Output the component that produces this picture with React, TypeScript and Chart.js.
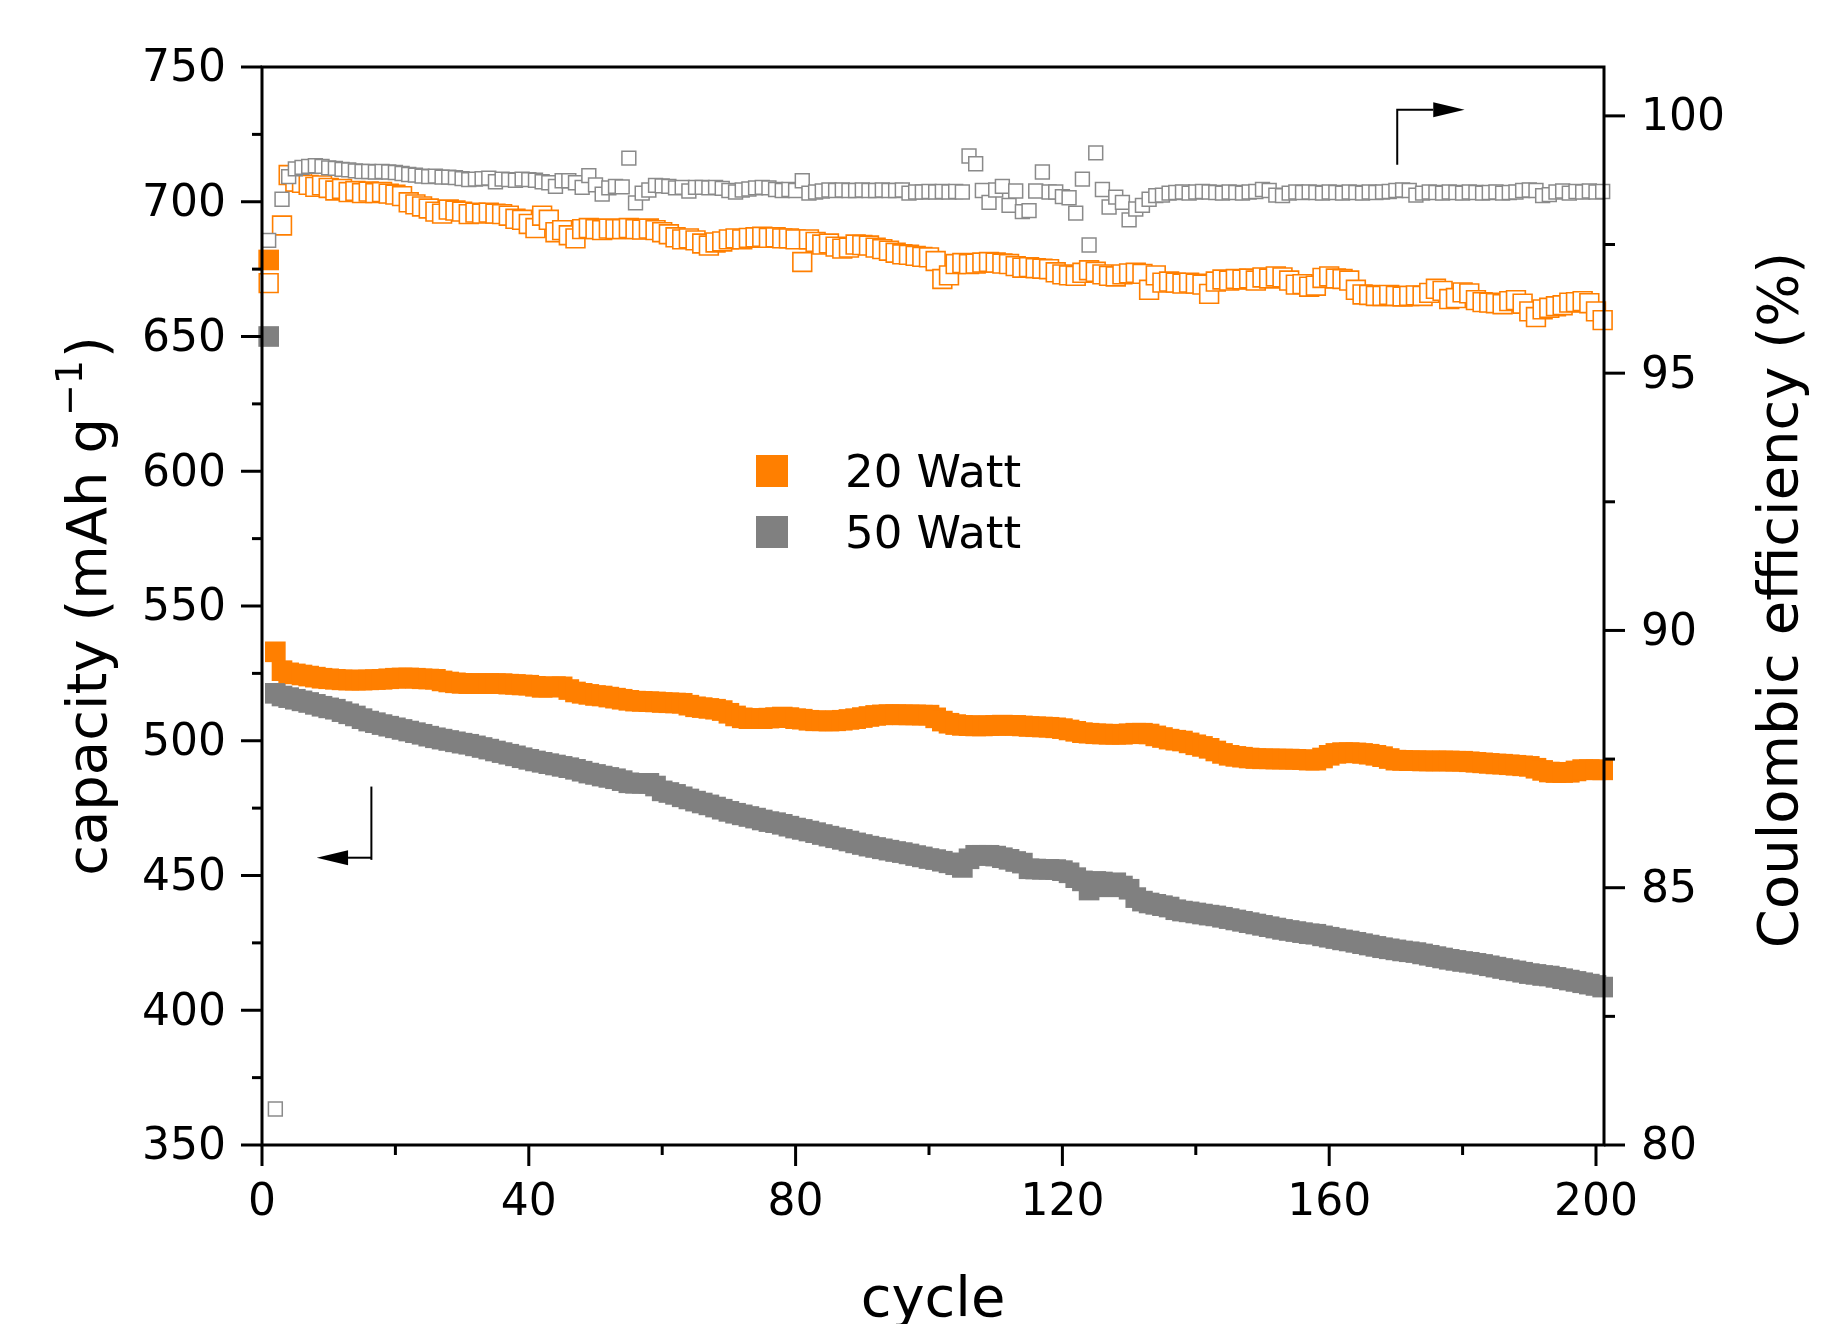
import React, { useEffect, useRef } from 'react';
import { Chart, registerables } from 'chart.js';

Chart.register(...registerables);

const FONT = "'DejaVu Sans', Verdana, sans-serif";

// capacity (mAh g-1), cycles 1..201
const cap20 = [
  678.4, 533, 526, 525.2, 524.8, 524.4, 524, 523.6, 523.2, 523,
  522.8, 522.6, 522.5, 522.5, 522.5, 522.6, 522.7, 522.8, 523, 523.2,
  523.3, 523.3, 523.2, 523, 522.9, 522.8, 522.2, 521.8, 521.5, 521.3,
  521.2, 521.2, 521.2, 521.2, 521.2, 521.2, 521, 520.9, 520.7, 520.6,
  520.2, 519.8, 519.9, 520.1, 520, 519, 518.1, 517.6, 517.2, 516.8,
  516.6, 516.2, 515.8, 515.4, 515, 514.7, 514.6, 514.5, 514.4, 514.2,
  514.1, 514, 513.9, 513.2, 512.6, 512.3, 512, 511.7, 511.2, 510.2,
  509.2, 508.5, 508.2, 508.2, 508.2, 508.4, 508.6, 508.8, 508.6, 508.2,
  508, 507.6, 507.4, 507.4, 507.3, 507.4, 507.6, 507.9, 508.2, 508.6,
  509, 509.4, 509.6, 509.7, 509.7, 509.6, 509.6, 509.6, 509.5, 509.5,
  508.5, 507.3, 506.5, 506, 505.7, 505.6, 505.5, 505.5, 505.6, 505.7,
  505.8, 505.7, 505.7, 505.5, 505.3, 505.2, 505.1, 505, 504.8, 504.5,
  504, 503.5, 503, 502.8, 502.6, 502.5, 502.4, 502.4, 502.4, 502.6,
  502.8, 502.8, 502.5, 501.8, 501.2, 500.6, 500.2, 499.9, 499.2, 498.5,
  497.9, 497.2, 496.2, 495.3, 494.6, 494.2, 493.9, 493.6, 493.4, 493.3,
  493.3, 493.2, 493.2, 493.2, 493.1, 493, 492.8, 492.8, 493.6, 494.6,
  495.3, 495.6, 495.6, 495.5, 495.3, 495, 494.6, 494.1, 493.4, 492.8,
  492.7, 492.6, 492.6, 492.5, 492.5, 492.5, 492.5, 492.5, 492.4, 492.4,
  492.2, 492, 491.8, 491.6, 491.4, 491.3, 491.1, 490.9, 490.7, 490.5,
  489.8, 489, 488.4, 488.2, 488.2, 488.3, 488.8, 489.3, 489.3, 489.2, 489.2,
];

const cap50 = [
  650, 517.6, 516.6, 516, 515.4, 514.8, 514.2, 513.5, 512.8, 512.2,
  511.7, 510.8, 510, 509.2, 508.2, 507.3, 506.7, 506, 505.4, 504.8,
  504.2, 503.6, 503, 502.4, 501.7, 501.1, 500.6, 500.1, 499.6, 499.1,
  498.7, 498.1, 497.5, 496.9, 496.2, 495.6, 495, 494.4, 493.7, 493.1,
  492.5, 492, 491.5, 491, 490.5, 490, 489.4, 488.7, 488, 487.5,
  486.9, 486.4, 485.9, 485.2, 484.4, 484.2, 484.2, 484.2, 483.2, 481.4,
  480.8, 480.1, 479.2, 478.4, 477.6, 476.9, 476.2, 475.4, 474.6, 473.8,
  473.1, 472.5, 471.9, 471.3, 470.6, 470, 469.6, 469, 468.3, 467.6,
  467.1, 466.5, 465.9, 465.2, 464.6, 464, 463.4, 462.8, 462.1, 461.5,
  460.9, 460.4, 459.9, 459.4, 458.9, 458.5, 458, 457.4, 456.9, 456.3,
  455.9, 455.3, 454.7, 454, 453, 456.2, 457.5, 457.5, 457.5, 457.2,
  456.6, 456, 455.2, 454.6, 452.5, 452.4, 452.3, 452.3, 452.2, 451.8,
  451, 449.2, 448, 444.6, 447.8, 447.6, 445.8, 447.3, 446.1, 444.9,
  441.8, 440.5, 439.8, 439.3, 438.8, 438.3, 437.3, 436.8, 436.5, 436.1,
  435.7, 435.3, 435, 434.5, 434, 433.5, 433, 432.5, 432, 431.5,
  431, 430.5, 430, 429.6, 429.2, 428.8, 428.4, 428.2, 427.6, 427.1,
  426.6, 426.1, 425.7, 425.2, 424.7, 424.2, 423.7, 423.2, 422.8, 422.4,
  422, 421.7, 421.4, 420.9, 420.4, 419.9, 419.4, 418.9, 418.5, 418.1,
  417.8, 417.4, 417, 416.5, 416, 415.5, 415, 414.6, 414.1, 413.6,
  413.3, 412.9, 412.7, 412.2, 411.7, 411.2, 410.7, 410.2, 409.7, 409.2, 408.6,
];

// Coulombic efficiency (%), cycles 1..201
const ce20 = [
  96.75, null, 97.87, 98.85, 98.72, 98.7, 98.66, 98.62, 98.65, 98.6,
  98.55, 98.58, 98.52, 98.54, 98.5, 98.53, 98.5, 98.52, 98.49, 98.47,
  98.44, 98.32, 98.28, 98.24, 98.2, 98.14, 98.1, 98.18, 98.16, 98.14,
  98.09, 98.12, 98.1, 98.12, 98.1, 98.09, 98.06, 98, 97.98, 97.9,
  97.82, 98.06, 97.98, 97.74, 97.78, 97.68, 97.62, 97.8, 97.82, 97.8,
  97.78, 97.81, 97.8, 97.8, 97.82, 97.8, 97.79, 97.81, 97.78, 97.74,
  97.7, 97.64, 97.6, 97.62, 97.58, 97.52, 97.48, 97.54, 97.56, 97.6,
  97.62, 97.6, 97.63, 97.64, 97.65, 97.63, 97.64, 97.62, 97.62, 97.6,
  97.16, 97.6, 97.55, 97.5, 97.52, 97.46, 97.42, 97.44, 97.5, 97.49,
  97.48, 97.44, 97.41, 97.38, 97.34, 97.31, 97.3, 97.28, 97.26, 97.25,
  97.18, 96.83, 96.9, 97.12, 97.14, 97.12, 97.13, 97.15, 97.16, 97.15,
  97.13, 97.12, 97.08, 97.05, 97.06, 97.04, 97.03, 97.02, 96.96, 96.92,
  96.9, 96.89, 96.95, 97, 96.97, 96.92, 96.89, 96.88, 96.92, 96.94,
  96.95, 96.93, 96.62, 96.9, 96.76, 96.78, 96.76, 96.74, 96.76, 96.74,
  96.72, 96.54, 96.78, 96.82, 96.8, 96.83, 96.82, 96.84, 96.8, 96.86,
  96.84, 96.88, 96.86, 96.8, 96.72, 96.73, 96.68, 96.7, 96.85, 96.88,
  96.84, 96.83, 96.8, 96.62, 96.53, 96.52, 96.5, 96.5, 96.52, 96.5,
  96.49, 96.5, 96.51, 96.5, 96.56, 96.64, 96.6, 96.44, 96.46, 96.57,
  96.55, 96.42, 96.38, 96.37, 96.36, 96.34, 96.4, 96.42, 96.35, 96.2,
  96.09, 96.24, 96.27, 96.3, 96.32, 96.37, 96.38, 96.4, 96.36, 96.2, 96.03,
];

const ce50 = [
  97.58, 80.7, 98.38, 98.82, 98.97, 99, 99.02, 99.03, 99.02, 98.99,
  98.98, 98.96, 98.95, 98.93, 98.92, 98.92, 98.91, 98.92, 98.91, 98.9,
  98.88, 98.86, 98.85, 98.83, 98.82, 98.83, 98.81, 98.81, 98.8, 98.78,
  98.76, 98.77, 98.78, 98.79, 98.72, 98.77, 98.76, 98.75, 98.77, 98.76,
  98.75, 98.72, 98.7, 98.63, 98.74, 98.74, 98.7, 98.61, 98.84, 98.66,
  98.48, 98.6, 98.63, 98.62, 99.18, 98.31, 98.5, 98.56, 98.65, 98.64,
  98.63, 98.6, 98.61, 98.54, 98.61, 98.61, 98.6, 98.61, 98.59, 98.55,
  98.52, 98.56, 98.58, 98.6, 98.61, 98.6, 98.57, 98.55, 98.57, 98.55,
  98.74, 98.5, 98.52, 98.54, 98.56, 98.55, 98.56, 98.55, 98.55, 98.56,
  98.55, 98.55, 98.56, 98.55, 98.55, 98.56, 98.5, 98.52, 98.52, 98.53,
  98.52, 98.53, 98.52, 98.53, 98.52, 99.22, 99.07, 98.55, 98.32, 98.56,
  98.63, 98.26, 98.54, 98.14, 98.16, 98.54, 98.91, 98.52, 98.52, 98.43,
  98.41, 98.11, 98.77, 97.49, 99.28, 98.57, 98.23, 98.42, 98.32, 97.98,
  98.19, 98.26, 98.38, 98.45, 98.46, 98.5, 98.51, 98.52, 98.5, 98.52,
  98.53, 98.52, 98.51, 98.5, 98.52, 98.51, 98.5, 98.52, 98.53, 98.57,
  98.55, 98.46, 98.45, 98.5, 98.52, 98.51, 98.52, 98.51, 98.5, 98.52,
  98.51, 98.5, 98.52, 98.51, 98.5, 98.52, 98.51, 98.52, 98.53, 98.55,
  98.56, 98.55, 98.46, 98.5, 98.52, 98.51, 98.5, 98.52, 98.51, 98.5,
  98.52, 98.51, 98.5, 98.51, 98.52, 98.5, 98.51, 98.52, 98.55, 98.56,
  98.55, 98.45, 98.47, 98.52, 98.54, 98.5, 98.53, 98.52, 98.54, 98.52, 98.53,
];

const xTicks = [0, 40, 80, 120, 160, 200];
const capTicks = [350, 400, 450, 500, 550, 600, 650, 700, 750];
const ceTicks = [80, 85, 90, 95, 100];
const seriesNames = ['20 Watt', '50 Watt'];

const ORANGE = '#FF7F00';
const GRAY = '#808080';

const toPoints = (arr: (number | null)[]) =>
  arr.map((v, i) => ({ x: i + 1, y: v })).filter((p) => p.y !== null) as { x: number; y: number }[];

const decor = {
  id: 'decor',
  afterDatasetsDraw(chart: any) {
    const { ctx, chartArea } = chart;
    const { left, right, top, bottom } = chartArea;
    const xs = chart.scales.x;
    const yl = chart.scales.y;
    const yr = chart.scales.y1;
    ctx.save();
    ctx.strokeStyle = '#000';
    ctx.fillStyle = '#000';
    ctx.lineWidth = 3;
    ctx.lineCap = 'butt';

    // left ticks
    for (let v = 350; v <= 750; v += 25) {
      const py = yl.getPixelForValue(v);
      const len = v % 50 === 0 ? 21 : 10;
      ctx.beginPath();
      ctx.moveTo(left - len, py);
      ctx.lineTo(left, py);
      ctx.stroke();
    }
    // right ticks
    for (let v = 80; v <= 100; v += 2.5) {
      const py = yr.getPixelForValue(v);
      const len = v % 5 === 0 ? 21 : 11;
      ctx.beginPath();
      ctx.moveTo(right, py);
      ctx.lineTo(right + len, py);
      ctx.stroke();
    }
    // bottom ticks
    for (let c = 0; c <= 200; c += 20) {
      const px = xs.getPixelForValue(c);
      const len = c % 40 === 0 ? 21 : 10;
      ctx.beginPath();
      ctx.moveTo(px, bottom);
      ctx.lineTo(px, bottom + len);
      ctx.stroke();
    }
    // frame
    ctx.lineCap = 'square';
    ctx.beginPath();
    ctx.rect(left, top, right - left, bottom - top);
    ctx.stroke();

    // arrows
    ctx.lineWidth = 2;
    ctx.lineCap = 'butt';
    // right-pointing arrow (CE axis)
    {
      const vx = xs.getPixelForValue(170.2);
      const y0 = yr.getPixelForValue(99.05);
      const y1 = yr.getPixelForValue(100.12);
      const tip = xs.getPixelForValue(180.3);
      const base = xs.getPixelForValue(175.6);
      ctx.beginPath();
      ctx.moveTo(vx, y0);
      ctx.lineTo(vx, y1);
      ctx.lineTo(base, y1);
      ctx.stroke();
      ctx.beginPath();
      ctx.moveTo(tip, y1);
      ctx.lineTo(base, y1 - 7.5);
      ctx.lineTo(base, y1 + 7.5);
      ctx.closePath();
      ctx.fill();
    }
    // left-pointing arrow (capacity axis)
    {
      const vx = xs.getPixelForValue(16.4);
      const y0 = yl.getPixelForValue(483);
      const y1 = yl.getPixelForValue(456.6);
      const yb = yl.getPixelForValue(455.8);
      const tip = xs.getPixelForValue(8.2);
      const base = xs.getPixelForValue(12.9);
      ctx.beginPath();
      ctx.moveTo(vx, y0);
      ctx.lineTo(vx, yb);
      ctx.stroke();
      ctx.beginPath();
      ctx.moveTo(vx, y1);
      ctx.lineTo(base, y1);
      ctx.stroke();
      ctx.beginPath();
      ctx.moveTo(tip, y1);
      ctx.lineTo(base, y1 - 7.5);
      ctx.lineTo(base, y1 + 7.5);
      ctx.closePath();
      ctx.fill();
    }

    // legend
    const legendColors = [ORANGE, GRAY];
    const legendY = [471, 532];
    ctx.font = `45px ${FONT}`;
    ctx.textBaseline = 'middle';
    ctx.textAlign = 'left';
    seriesNames.forEach((name, i) => {
      ctx.fillStyle = legendColors[i];
      ctx.fillRect(756, legendY[i] - 16, 32, 32);
      ctx.fillStyle = '#000';
      ctx.fillText(name, 845, legendY[i] + 4);
    });

    // axis titles
    const midY = (top + bottom) / 2;
    ctx.fillStyle = '#000';
    // left title with superscript
    {
      const main = `56px ${FONT}`;
      const sup = `38px ${FONT}`;
      const p1 = 'capacity (mAh g';
      const p2 = '\u22121';
      const p3 = ')';
      ctx.font = main;
      const w1 = ctx.measureText(p1).width;
      const w3 = ctx.measureText(p3).width;
      ctx.font = sup;
      const w2 = ctx.measureText(p2).width;
      const total = w1 + w2 + w3 + 4;
      ctx.save();
      ctx.translate(106, midY);
      ctx.rotate(-Math.PI / 2);
      ctx.textAlign = 'left';
      ctx.textBaseline = 'alphabetic';
      let x = -total / 2;
      ctx.font = main;
      ctx.fillText(p1, x, 0);
      x += w1 + 2;
      ctx.font = sup;
      ctx.fillText(p2, x, -24);
      x += w2 + 2;
      ctx.font = main;
      ctx.fillText(p3, x, 0);
      ctx.restore();
    }
    // right title
    ctx.save();
    ctx.translate(1797, midY - 6);
    ctx.rotate(-Math.PI / 2);
    ctx.font = `56px ${FONT}`;
    ctx.textAlign = 'center';
    ctx.textBaseline = 'alphabetic';
    ctx.fillText('Coulombic efficiency (%)', 0, 0);
    ctx.restore();
    // bottom title
    ctx.font = `56px ${FONT}`;
    ctx.textAlign = 'center';
    ctx.textBaseline = 'alphabetic';
    ctx.fillText('cycle', (left + right) / 2, 1316);

    ctx.restore();
  },
};

export default function App() {
  const ref = useRef<HTMLCanvasElement | null>(null);

  useEffect(() => {
    if (!ref.current) return;
    const tickFont = { family: FONT, size: 44 };
    const chart = new Chart(ref.current, {
      type: 'scatter',
      data: {
        datasets: [
          {
            label: '50 Watt CE',
            data: toPoints(ce50),
            yAxisID: 'y1',
            pointStyle: 'rect',
            pointRadius: 9.8,
            backgroundColor: '#ffffff',
            borderColor: '#8a8a8a',
            borderWidth: 1.5,
            clip: false,
            order: 0,
          },
          {
            label: '20 Watt CE',
            data: toPoints(ce20),
            yAxisID: 'y1',
            pointStyle: 'rect',
            pointRadius: 13.3,
            backgroundColor: '#ffffff',
            borderColor: ORANGE,
            borderWidth: 1.6,
            clip: false,
            order: 1,
          },
          {
            label: seriesNames[0],
            data: toPoints(cap20),
            yAxisID: 'y',
            pointStyle: 'rect',
            pointRadius: 14.6,
            backgroundColor: ORANGE,
            borderColor: ORANGE,
            borderWidth: 0,
            clip: false,
            order: 2,
          },
          {
            label: seriesNames[1],
            data: toPoints(cap50),
            yAxisID: 'y',
            pointStyle: 'rect',
            pointRadius: 14.6,
            backgroundColor: GRAY,
            borderColor: GRAY,
            borderWidth: 0,
            clip: false,
            order: 3,
          },
        ],
      },
      options: {
        responsive: false,
        animation: false,
        devicePixelRatio: 1,
        events: [],
        layout: { padding: { top: 67, left: 0, right: 0, bottom: 0 } },
        plugins: { legend: { display: false }, tooltip: { enabled: false } },
        scales: {
          x: {
            type: 'linear',
            position: 'bottom',
            min: 0,
            max: 201.2,
            grid: { display: false, drawTicks: false },
            border: { display: false },
            ticks: { font: tickFont, color: '#000', padding: 32, maxRotation: 0 },
            afterBuildTicks: (s: any) => {
              s.ticks = xTicks.map((v) => ({ value: v }));
            },
            afterFit: (s: any) => {
              s.height = 179;
            },
          },
          y: {
            type: 'linear',
            position: 'left',
            min: 350,
            max: 750,
            grid: { display: false, drawTicks: false },
            border: { display: false },
            ticks: { font: tickFont, color: '#000', padding: 36, labelOffset: 3 },
            afterBuildTicks: (s: any) => {
              s.ticks = capTicks.map((v) => ({ value: v }));
            },
            afterFit: (s: any) => {
              s.width = 262;
            },
          },
          y1: {
            type: 'linear',
            position: 'right',
            min: 80,
            max: 100.95,
            grid: { display: false, drawTicks: false },
            border: { display: false },
            ticks: { font: tickFont, color: '#000', padding: 37, labelOffset: 3 },
            afterBuildTicks: (s: any) => {
              s.ticks = ceTicks.map((v) => ({ value: v }));
            },
            afterFit: (s: any) => {
              s.width = 241;
            },
          },
        },
      } as any,
      plugins: [decor],
    });
    return () => chart.destroy();
  }, []);

  return (
    <div style={{ position: 'absolute', left: 0, top: 0, width: 1845, height: 1324, background: '#fff' }}>
      <canvas ref={ref} width={1845} height={1324} style={{ display: 'block', width: 1845, height: 1324 }} />
    </div>
  );
}
